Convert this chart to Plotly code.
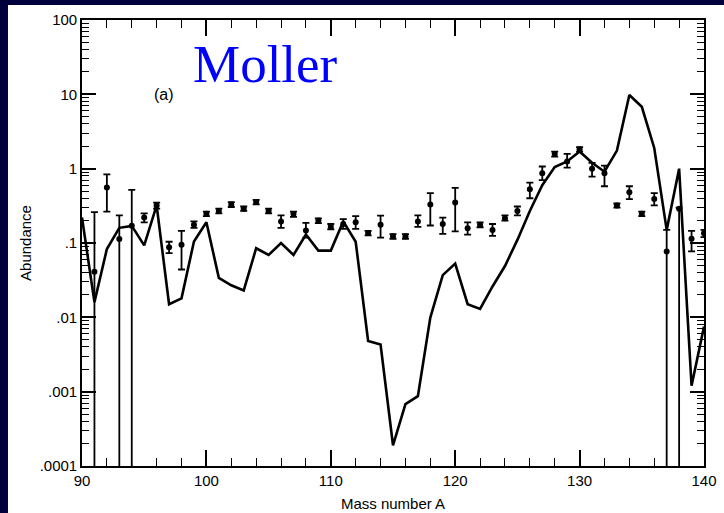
import plotly.graph_objects as go

# ---- Data ----
mass_line = list(range(90, 141))
theory = [0.22, 0.016, 0.083, 0.16, 0.17, 0.093, 0.32, 0.015, 0.018, 0.105,
          0.19, 0.034, 0.027, 0.023, 0.085, 0.069, 0.10, 0.069, 0.13, 0.079,
          0.079, 0.195, 0.104, 0.0048, 0.0043, 0.00019, 0.00068, 0.00087, 0.0099, 0.037,
          0.053, 0.015, 0.013, 0.026, 0.049, 0.11, 0.27, 0.60, 1.05, 1.25,
          1.7, 1.2, 0.91, 1.75, 9.8, 6.8, 1.9, 0.15, 1.0, 0.0012,
          0.0075]

mass_pts = list(range(91, 141))
obs = [0.041, 0.56, 0.113, 0.17, 0.22, 0.32, 0.088, 0.095, 0.176, 0.247,
       0.27, 0.33, 0.29, 0.355, 0.27, 0.195, 0.245, 0.147, 0.20, 0.166,
       0.18, 0.19, 0.136, 0.176, 0.123, 0.123, 0.195, 0.33, 0.18, 0.35,
       0.158, 0.176, 0.15, 0.216, 0.27, 0.53, 0.87, 1.58, 1.25, 1.83,
       1.0, 0.87, 0.32, 0.48, 0.247, 0.39, 0.077, 0.29, 0.114, 0.135]
obs_hi = [0.26, 0.84, 0.235, 0.52, 0.25, 0.35, 0.104, 0.146, 0.195, 0.265,
          0.29, 0.355, 0.31, 0.38, 0.29, 0.235, 0.265, 0.186, 0.215, 0.18,
          0.21, 0.23, 0.146, 0.233, 0.132, 0.132, 0.235, 0.47, 0.22, 0.55,
          0.19, 0.19, 0.18, 0.235, 0.31, 0.65, 1.07, 1.7, 1.58, 1.95,
          1.2, 1.1, 0.34, 0.58, 0.265, 0.47, 0.15, 0.30, 0.146, 0.15]
obs_lo = [0.0, 0.265, 0.0, 0.0, 0.19, 0.29, 0.073, 0.044, 0.16, 0.23,
          0.25, 0.305, 0.27, 0.33, 0.25, 0.16, 0.225, 0.118, 0.185, 0.153,
          0.155, 0.155, 0.127, 0.118, 0.114, 0.114, 0.165, 0.172, 0.133, 0.143,
          0.13, 0.163, 0.125, 0.20, 0.235, 0.40, 0.70, 1.45, 1.03, 1.70,
          0.78, 0.58, 0.30, 0.39, 0.23, 0.32, 0.0, 0.0, 0.077, 0.12]

y_tickvals = [1e-4, 1e-3, 1e-2, 1e-1, 1, 10, 100]
y_ticktext = [".0001", ".001", ".01", ".1", "1", "10", "100"]
x_tickvals = [90, 100, 110, 120, 130, 140]

err_plus = [h - v for h, v in zip(obs_hi, obs)]
err_minus = [v - l for v, l in zip(obs, obs_lo)]
minor_y = [k * 10 ** e for e in range(-4, 2) for k in range(2, 10)]

fig = go.Figure()
fig.add_trace(go.Scatter(
    x=mass_line, y=theory, mode="lines",
    line=dict(color="black", width=2.6), showlegend=False, hoverinfo="skip"))
fig.add_trace(go.Scatter(
    x=mass_pts, y=obs, mode="markers",
    marker=dict(color="black", size=6, symbol="circle"),
    error_y=dict(type="data", symmetric=False, array=err_plus, arrayminus=err_minus,
                 color="black", thickness=1.8, width=3.5),
    showlegend=False))

font_axis = dict(family="Liberation Sans, Arial, sans-serif", size=15, color="black")

fig.update_layout(
    width=724, height=513,
    margin=dict(l=82, r=20, t=20, b=47, autoexpand=False),
    paper_bgcolor="#00003c",
    plot_bgcolor="white",
    font=font_axis,
    shapes=[dict(type="rect", xref="paper", yref="paper",
                 x0=-0.119, x1=1.06, y0=-0.2, y1=1.0336,
                 fillcolor="white", line=dict(width=0), layer="below")],
    annotations=[
        dict(text="Moller", xref="paper", yref="paper", x=0.176, y=0.902,
             xanchor="left", yanchor="middle", showarrow=False,
             font=dict(family="Liberation Serif, Times New Roman, serif", size=53, color="#0000ff")),
        dict(text="(a)", xref="paper", yref="paper", x=0.1326, y=0.832,
             xanchor="center", yanchor="middle", showarrow=False,
             font=dict(family="Liberation Sans, Arial, sans-serif", size=16, color="black")),
    ],
)

fig.update_xaxes(
    range=[90, 140], tickvals=x_tickvals, ticks="inside", ticklen=16, tickwidth=1.5,
    tickcolor="black", showline=True, linecolor="black", linewidth=1.6, mirror="allticks",
    showgrid=False, zeroline=False, tickfont=font_axis,
    minor=dict(ticks="inside", ticklen=8, tickwidth=1.3, tickcolor="black", dtick=2, tick0=90, showgrid=False),
    title=dict(text="Mass number A", font=dict(family="Liberation Sans, Arial, sans-serif", size=15, color="black"), standoff=11),
)
fig.update_yaxes(
    type="log", range=[-4, 2], tickvals=y_tickvals, ticktext=y_ticktext,
    ticks="inside", ticklen=14, tickwidth=1.5, tickcolor="black",
    showline=True, linecolor="black", linewidth=1.6, mirror="allticks",
    showgrid=False, zeroline=False, tickfont=font_axis,
    minor=dict(ticks="inside", ticklen=7, tickwidth=1.2, tickcolor="black", tickvals=minor_y, showgrid=False),
    title=dict(text="Abundance", font=dict(family="Liberation Sans, Arial, sans-serif", size=15, color="black"), standoff=4),
)

fig.write_html("out.html", config={"displayModeBar": False},
               post_script="document.body.style.margin='0';document.body.style.overflow='hidden';")
